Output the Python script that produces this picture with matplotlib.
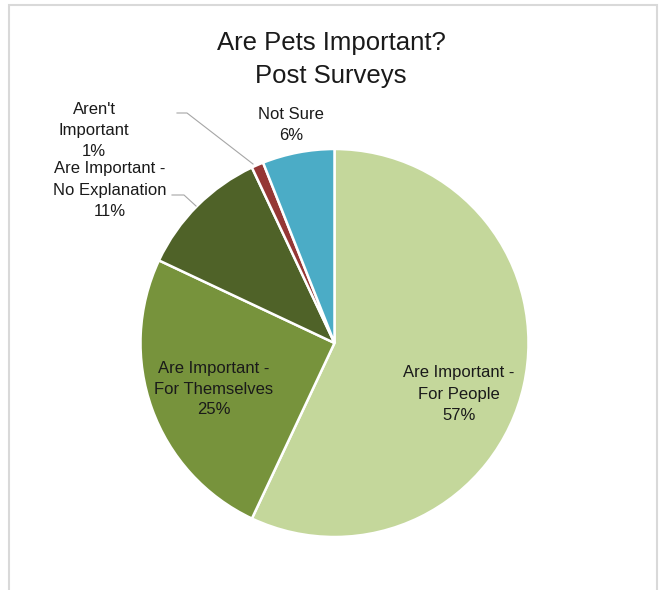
import matplotlib.pyplot as plt
from matplotlib.patches import Rectangle

plt.rcParams['font.family'] = ['Liberation Sans', 'DejaVu Sans']

# data
categories = ['Are Important -\nFor People', 'Are Important -\nFor Themselves',
              'Are Important -\nNo Explanation', "Aren't\nImportant", 'Not Sure']
percents = [57, 25, 11, 1, 6]
colors = ['#C4D79B', '#77933C', '#4F6228', '#953735', '#4BACC6']

W, H = 660, 590
fig = plt.figure(figsize=(W / 100, H / 100), dpi=100)
ax = fig.add_axes([0, 0, 1, 1])


def Y(y):
    # pixel row from top -> data y
    return H - y


ax.pie(percents, colors=colors, startangle=90, counterclock=False,
       center=(334.5, Y(343)), radius=194,
       wedgeprops=dict(edgecolor='white', linewidth=1.8))
ax.set_xlim(0, W)
ax.set_ylim(0, H)
ax.set_aspect('auto')
ax.axis('off')

# chart frame
ax.add_patch(Rectangle((9, -20), 648, Y(5) + 20, fill=False, edgecolor='#D9D9D9', lw=1.5))

# title
ax.text(331, Y(43), 'Are Pets Important?', ha='center', va='center', fontsize=18.5, color='#1a1a1a')
ax.text(331, Y(76), 'Post Surveys', ha='center', va='center', fontsize=18.5, color='#1a1a1a')

# labels
lab_kw = dict(ha='center', va='center', fontsize=12, color='#1a1a1a', linespacing=1.5)
pos = [(459, 394), (214, 389), (110, 190), (94, 131), (291, 125)]
for cat, p, (x, y) in zip(categories, percents, pos):
    ax.text(x, Y(y), f'{cat}\n{p}%', **lab_kw)

# leader lines
ax.plot([177, 187, 253], [Y(113), Y(113), Y(164)], color='#A6A6A6', lw=0.8)
ax.plot([172, 184, 196], [Y(195), Y(195), Y(206)], color='#A6A6A6', lw=0.8)

fig.savefig('out.png', dpi=100)
